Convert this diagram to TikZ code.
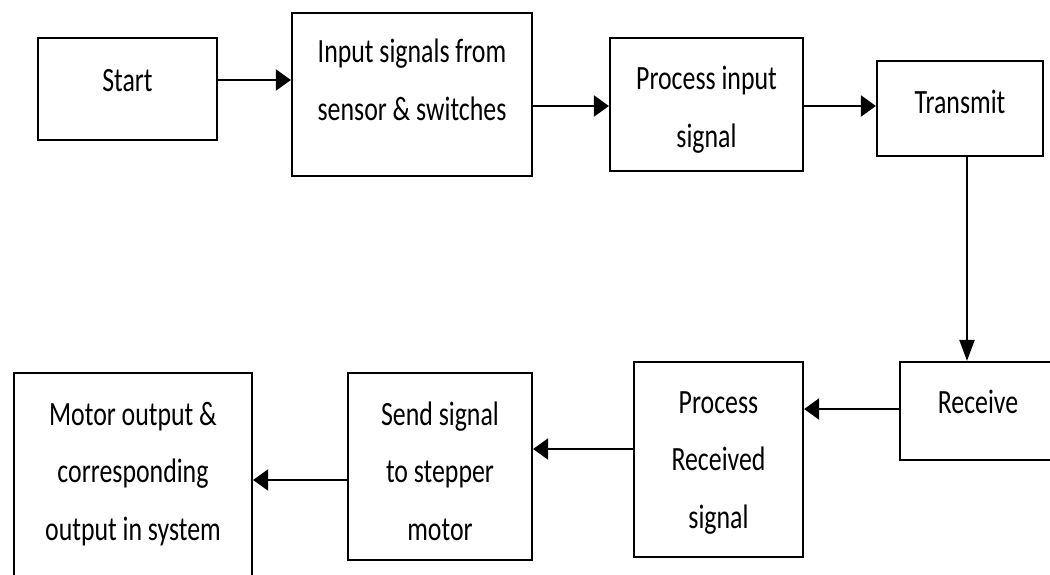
\documentclass[tikz,border=0pt]{standalone}
\usepackage{fontspec}
\setmainfont{Carlito}[FakeStretch=0.76]
\usetikzlibrary{arrows.meta}
\begin{document}
\begin{tikzpicture}[x=1pt,y=-1pt,
  box/.style={draw, line width=2.2pt, inner sep=0pt},
  lbl/.style={anchor=base, align=center, inner sep=0pt,
    font=\fontsize{34}{57.5}\selectfont},
  harr/.style={line width=2.2pt, -{Triangle[length=15pt,width=21pt]}},
  varr/.style={line width=2.2pt, -{Triangle[length=21pt,width=15pt]}}]
\clip (0,0) rectangle (1050,574);
\useasboundingbox (0,0) rectangle (1050,574);
% boxes
\node[box, minimum width=179pt, minimum height=102pt] (start) at (127.5,89) {};
\node[box, minimum width=240pt, minimum height=163pt] (input) at (412,94.5) {};
\node[box, minimum width=193pt, minimum height=133pt] (procin) at (706.5,104.5) {};
\node[box, minimum width=166pt, minimum height=95pt] (transmit) at (960,108.5) {};
\node[box, minimum width=156pt, minimum height=98pt] (receive) at (978,411) {};
\node[box, minimum width=169pt, minimum height=195pt] (procrec) at (718.5,459.5) {};
\node[box, minimum width=184pt, minimum height=187pt] (send) at (440,466.5) {};
\node[box, minimum width=238pt, minimum height=217pt] (motor) at (133,481.5) {};
% labels (base anchor sits on the last line)
\node[lbl] (tstart) at (127.5,91) {Start};
\node[lbl] (tinput) at (412,120) {Input signals from\\sensor \& switches};
\node[lbl] (tprocin) at (706.5,147) {Process input\\signal};
\node[lbl] (ttransmit) at (960,113) {Transmit};
\node[lbl] (treceive) at (978,413) {Receive};
\node[lbl] (tprocrec) at (718.5,528) {Process\\Received\\signal};
\node[lbl] (tsend) at (440,540) {Send signal\\to stepper\\motor};
\node[lbl] (tmotor) at (133,540) {Motor output \&\\corresponding\\output in system};
% connectors
\draw[harr] ([yshift=9pt]start.east) -- ([yshift=14.5pt]input.west);
\draw[harr] ([yshift=-11.5pt]input.east) -- ([yshift=-1.5pt]procin.west);
\draw[harr] ([yshift=-1.5pt]procin.east) -- ([yshift=2.5pt]transmit.west);
\draw[varr] ([xshift=7pt]transmit.south) -- ([xshift=-11pt]receive.north);
\draw[harr] ([yshift=2pt]receive.west) -- ([yshift=50.5pt]procrec.east);
\draw[harr] ([yshift=10.5pt]procrec.west) -- ([yshift=17.5pt]send.east);
\draw[harr] ([yshift=-13.5pt]send.west) -- ([yshift=1.5pt]motor.east);
\end{tikzpicture}
\end{document}
